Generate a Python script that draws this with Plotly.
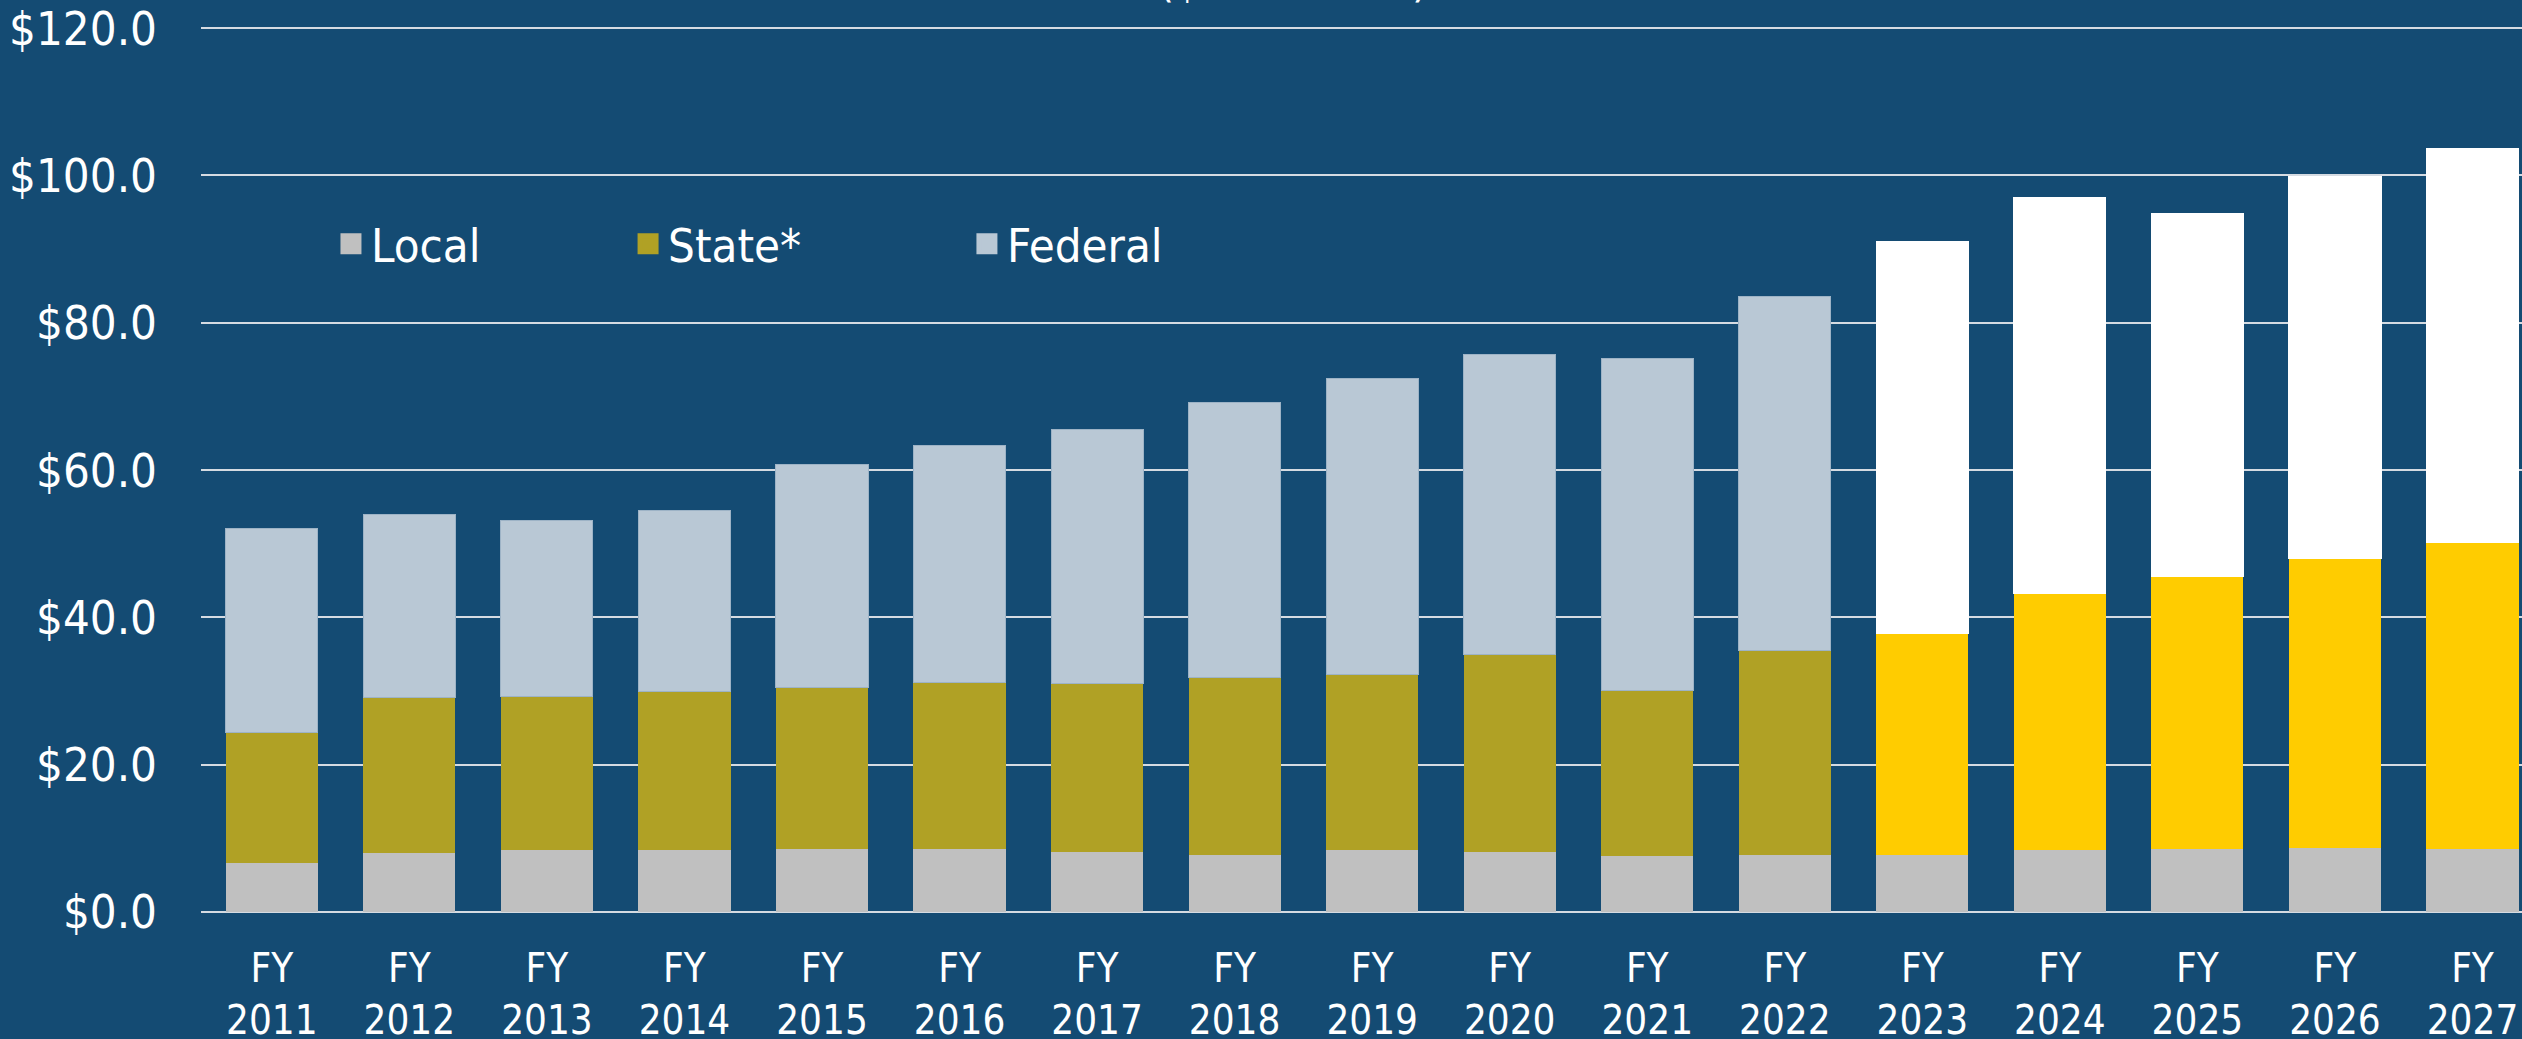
import plotly.graph_objects as go

# Fiscal years on the x axis
years = ["FY<br>2011", "FY<br>2012", "FY<br>2013", "FY<br>2014", "FY<br>2015", "FY<br>2016",
         "FY<br>2017", "FY<br>2018", "FY<br>2019", "FY<br>2020", "FY<br>2021", "FY<br>2022",
         "FY<br>2023", "FY<br>2024", "FY<br>2025", "FY<br>2026", "FY<br>2027"]

# $ in billions
local = [6.7, 8.0, 8.4, 8.4, 8.5, 8.5, 8.2, 7.8, 8.4, 8.2, 7.6, 7.8, 7.8, 8.4, 8.5, 8.7, 8.6]
state = [17.7, 21.1, 20.8, 21.5, 22.0, 22.7, 22.8, 24.1, 23.9, 26.7, 22.5, 27.7, 30.0, 34.8, 37.1, 39.3, 41.6]
federal = [27.6, 24.9, 23.9, 24.6, 30.2, 32.1, 34.5, 37.3, 40.1, 40.8, 45.0, 48.1, 53.2, 53.8, 49.2, 51.9, 53.5]

# FY 2011-2022 are actuals, FY 2023 onward get the bright colours
n_actual = 12

BG = "#144B73"
FONT = "DejaVu Sans Condensed, Liberation Sans, Arial, sans-serif"
LOCAL_C = "#C0C0C0"
STATE_C = "#B0A125"
FED_C = "#B9C8D5"

state_colors = [STATE_C] * n_actual + ["#FFCC00"] * (len(years) - n_actual)
fed_colors = [FED_C] * n_actual + ["#FFFFFF"] * (len(years) - n_actual)
fed_lines = ["#9DB3C6"] * n_actual + ["#FFFFFF"] * (len(years) - n_actual)

fig = go.Figure()

fig.add_trace(go.Bar(
    x=years, y=local, name="Local",
    marker=dict(color=LOCAL_C, line=dict(width=0)),
    showlegend=False
))
fig.add_trace(go.Bar(
    x=years, y=state, name="State*",
    marker=dict(color=state_colors, line=dict(width=0)),
    showlegend=False
))
fig.add_trace(go.Bar(
    x=years, y=federal, name="Federal",
    marker=dict(color=fed_colors, line=dict(width=1, color=fed_lines)),
    showlegend=False
))

# legend entries only (bigger square swatches than the bar legend gives)
for name, color, lg in [("Local", LOCAL_C, "legend"), ("State*", STATE_C, "legend2"),
                        ("Federal", FED_C, "legend3")]:
    fig.add_trace(go.Scatter(
        x=[None], y=[None], mode="markers", name=name,
        marker=dict(symbol="square", size=16, color=color, line=dict(width=5, color=color)),
        legend=lg, hoverinfo="skip"
    ))

leg = dict(
    orientation="h",
    yanchor="middle", y=0.737,
    xanchor="left",
    bgcolor="rgba(0,0,0,0)",
    font=dict(family=FONT, size=47, color="white"),
)

fig.update_layout(
    barmode="stack",
    bargap=0.33,
    width=2522, height=1039,
    margin=dict(l=201, r=0, t=6, b=127),
    paper_bgcolor=BG,
    plot_bgcolor=BG,
    font=dict(family=FONT, color="white"),
    showlegend=True,
    legend=dict(leg, x=0.056),
    legend2=dict(leg, x=0.184),
    legend3=dict(leg, x=0.330),
    xaxis=dict(
        range=[-0.515, 16.36],
        automargin=False,
        showgrid=False,
        showline=False,
        zeroline=False,
        ticks="",
        tickfont=dict(family=FONT, size=40, color="white"),
        ticklabelstandoff=29,
    ),
    yaxis=dict(
        range=[0, 123],
        automargin=False,
        tickvals=[0, 20, 40, 60, 80, 100, 120],
        tickformat="$.1f",
        ticklabeloverflow="allow",
        showgrid=True,
        gridcolor="#D5DBE2",
        gridwidth=2,
        zeroline=True,
        zerolinecolor="#D5DBE2",
        zerolinewidth=2,
        showline=False,
        ticks="",
        tickfont=dict(family=FONT, size=47, color="white"),
        ticklabelstandoff=43,
    ),
)

# subtitle, mostly cut off at the top in the original
fig.add_annotation(
    text="($ in Billions)",
    xref="paper", yref="paper",
    x=0.4705, y=1, xanchor="center", yanchor="bottom",
    yshift=-3,
    showarrow=False,
    font=dict(family=FONT, size=46, color="white"),
)

# page has no body margin so the figure fills the window
fig.write_html("out.html", config={"displayModeBar": False},
               post_script="document.body.style.margin='0';")
